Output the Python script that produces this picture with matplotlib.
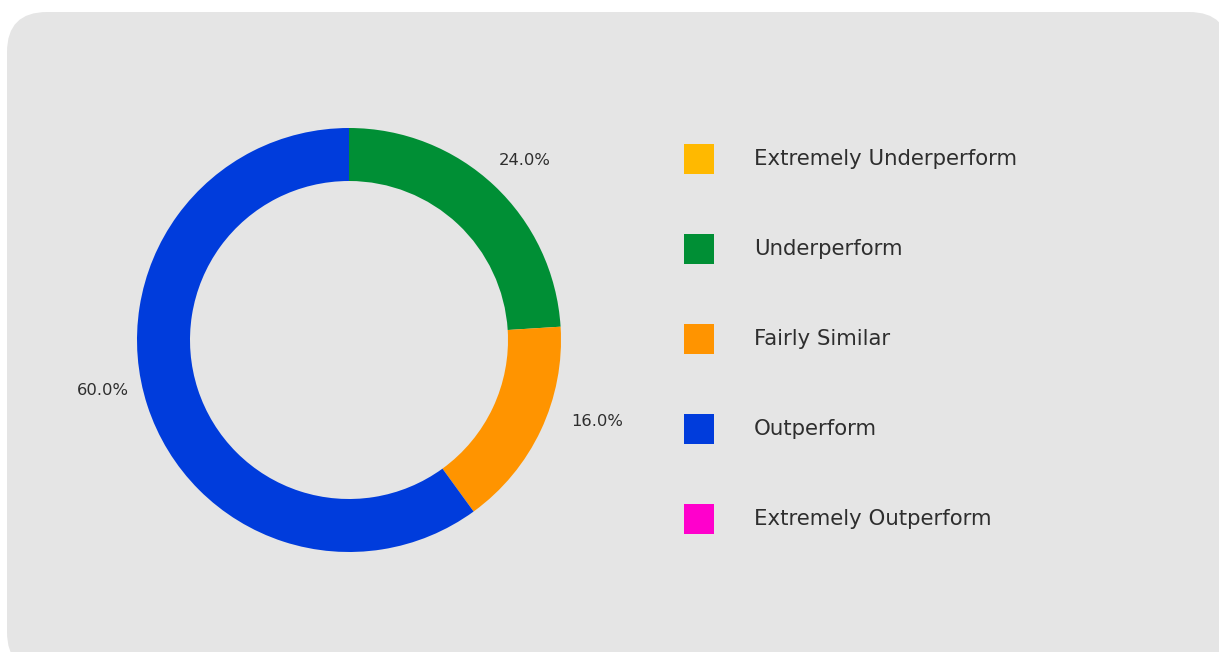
import matplotlib
matplotlib.use("Agg")
import matplotlib.pyplot as plt
from matplotlib.patches import FancyBboxPatch, Rectangle

# data
categories = ["Extremely Underperform", "Underperform", "Fairly Similar",
              "Outperform", "Extremely Outperform"]
shares = [0, 24, 16, 60, 0]
colors = ["#FFB900", "#008F35", "#FF9400", "#003CDC", "#FF00CC"]

# small pixel nudges so the outside labels sit where the original put them
label_nudge = {"Underperform": (3, -4), "Fairly Similar": (20, 26),
               "Outperform": (-6, 27)}

W, H = 1219, 652
plt.rcParams['font.family'] = ['DejaVu Sans']
text_color = "#2e2e2e"

fig = plt.figure(figsize=(W / 100, H / 100), dpi=100)
fig.patch.set_facecolor("white")

# full-figure axes in pixel units, for the card and the legend
bg = fig.add_axes([0, 0, 1, 1], zorder=0)
bg.set_xlim(0, W)
bg.set_ylim(H, 0)
bg.axis("off")
bg.add_patch(FancyBboxPatch((7, 12), 1222, 660,
                            boxstyle="round,pad=0,rounding_size=40",
                            facecolor="#e5e5e5", edgecolor="none"))

# donut: centre (349, 340) px, outer radius 212 px
R = 212
half = 300
pie_ax = fig.add_axes([(349 - half) / W, (H - 340 - half) / H,
                       2 * half / W, 2 * half / H], zorder=1)
pie_ax.patch.set_alpha(0)


def fmt(p):
    return f"{p:.1f}%" if p > 0 else ""


wedges, texts, autotexts = pie_ax.pie(
    shares, colors=colors, startangle=90, counterclock=False,
    radius=1.0, autopct=fmt, pctdistance=1.19,
    wedgeprops=dict(width=0.25, linewidth=0),
    textprops=dict(fontsize=11.8, color=text_color))
for lab, t in zip(categories, autotexts):
    if lab in label_nudge:
        dx, dy = label_nudge[lab]
        x, y = t.get_position()
        t.set_position((x + dx / R, y + dy / R))
pie_ax.set_xlim(-half / R, half / R)
pie_ax.set_ylim(-half / R, half / R)
pie_ax.set_aspect("equal")
pie_ax.axis("off")

# legend
for i, (lab, col) in enumerate(zip(categories, colors)):
    yc = 159 + i * 90
    bg.add_patch(Rectangle((684, yc - 15), 30, 30, facecolor=col, edgecolor="none"))
    bg.text(754, yc, lab, fontsize=15.3, color=text_color, va="center", ha="left")

fig.savefig("out.png", dpi=100, facecolor="white")
